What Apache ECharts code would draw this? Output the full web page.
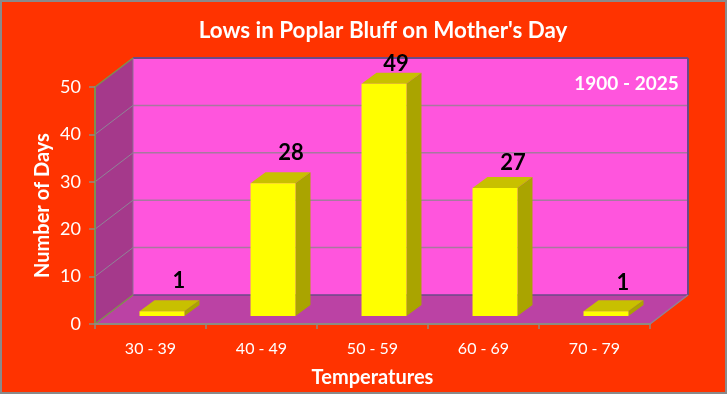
<!DOCTYPE html>
<html><head><meta charset="utf-8">
<style>html,body{margin:0;padding:0;background:#ff3300}#c{width:727px;height:394px;box-sizing:border-box}</style>
<script src="https://cdn.jsdelivr.net/npm/echarts@6/dist/echarts.min.js"></script>
</head><body><div id="c"></div>
<script>
const categories = ['30 - 39','40 - 49','50 - 59','60 - 69','70 - 79'];
const days = [1,28,49,27,1];
const yTicks = [0,10,20,30,40,50];
const titleText = "Lows in Poplar Bluff on Mother's Day";
const periodText = '1900 - 2025';

const FONT = 'Lato, "Open Sans", sans-serif';
const WALL = {dx:38, dy:-29};
const BAR = {gap:11.5, gapY:-8, dx:15, dy:-11};
const LABEL_NUDGE = [[0,0],[1,0],[-5,10],[1,5],[0,2]];

const chart = echarts.init(document.getElementById('c'));

function renderWalls(params, api){
  const cs = params.coordSys;
  const L=cs.x, R=cs.x+cs.width, T=cs.y, B=cs.y+cs.height, dx=WALL.dx, dy=WALL.dy;
  const children = [
    {type:'polygon',shape:{points:[[L+dx,T+dy],[R+dx,T+dy],[R+dx,B+dy],[L+dx,B+dy]]},style:{fill:'#ff55dd'}},
    {type:'polygon',shape:{points:[[L,T],[L+dx,T+dy],[L+dx,B+dy],[L,B]]},style:{fill:'#a5398b'}},
    {type:'polygon',shape:{points:[[L,B],[L+dx,B+dy],[R+dx,B+dy],[R,B]]},style:{fill:'#bb42a4'}}
  ];
  const grey='#8f8496';
  yTicks.forEach(v=>{
    const y=api.coord([0,v])[1];
    if(v>0&&v<50) children.push(
      {type:'line',shape:{x1:L,y1:y,x2:L+dx,y2:y+dy},style:{stroke:grey,lineWidth:1}},
      {type:'line',shape:{x1:L+dx,y1:y+dy,x2:R+dx,y2:y+dy},style:{stroke:'#a8789f',lineWidth:1.5}});
  });
  const dark='#6b4a88';
  children.push(
    {type:'line',shape:{x1:L+dx,y1:T+dy,x2:R+dx,y2:T+dy},style:{stroke:dark,lineWidth:2}},
    {type:'line',shape:{x1:R+dx,y1:T+dy,x2:R+dx,y2:B+dy},style:{stroke:dark,lineWidth:2}},
    {type:'line',shape:{x1:L+dx,y1:B+dy,x2:R+dx,y2:B+dy},style:{stroke:dark,lineWidth:1.5}},
    {type:'line',shape:{x1:L+dx,y1:T+dy,x2:L+dx,y2:B+dy},style:{stroke:'#8f6f96',lineWidth:1}},
    {type:'line',shape:{x1:L,y1:T,x2:L+dx,y2:T+dy},style:{stroke:'#7f8f4f',lineWidth:1.5}},
    {type:'line',shape:{x1:L,y1:B,x2:L+dx,y2:B+dy},style:{stroke:'#7f8f4f',lineWidth:1.5}},
    {type:'line',shape:{x1:R,y1:B,x2:R+dx,y2:B+dy},style:{stroke:grey,lineWidth:1.5}}
  );
  return {type:'group',children};
}

function renderBar(params, api){
  const i=api.value(0), v=api.value(1);
  const base=api.coord([i,0]), top=api.coord([i,v]);
  const w=api.size([1,0])[0]*0.405;
  const x0=base[0]-w/2+BAR.gap, x1=x0+w;
  const yb=base[1]+BAR.gapY, yt=top[1]+BAR.gapY;
  const d=BAR.dx, e=BAR.dy, n=LABEL_NUDGE[i];
  return {type:'group',children:[
    {type:'polygon',shape:{points:[[x0,yt],[x1,yt],[x1+d,yt+e],[x0+d,yt+e]]},style:{fill:'#c8c000'}},
    {type:'polygon',shape:{points:[[x1,yt],[x1+d,yt+e],[x1+d,yb+e],[x1,yb]]},style:{fill:'#aaa400'}},
    {type:'rect',shape:{x:x0,y:yt,width:w,height:yb-yt},style:{fill:'#ffff00'}},
    {type:'text',style:{text:String(v),x:x0+w/2+17+n[0],y:yt-30+n[1],align:'center',verticalAlign:'middle',
      fill:'#000',font:'bold 22px '+FONT}}
  ]};
}

chart.setOption({
  animation:false,
  backgroundColor:'#ff3300',
  title:[
    {text:titleText,left:378,top:15,textAlign:'center',textStyle:{color:'#fff',fontFamily:FONT,fontWeight:'bold',fontSize:22.4}},
    {text:periodText,left:621.5,top:69,textAlign:'center',textStyle:{color:'#fff',fontFamily:FONT,fontWeight:'bold',fontSize:19}}
  ],
  grid:{left:95,right:77,top:87,bottom:70,containLabel:false},
  xAxis:{type:'category',data:categories,z:5,
    name:'Temperatures',nameLocation:'middle',nameGap:44,
    nameTextStyle:{color:'#fff',fontFamily:FONT,fontWeight:'bold',fontSize:20},
    axisLine:{lineStyle:{color:'#8f8a80',width:2}},
    axisTick:{show:true,alignWithLabel:false,length:5,lineStyle:{color:'#8f8a80',width:1.5}},
    axisLabel:{color:'#fff',fontFamily:FONT,fontSize:16,margin:17},
    splitLine:{show:false}},
  yAxis:{type:'value',min:0,max:50,interval:10,z:5,
    name:'Number of Days',nameLocation:'middle',nameGap:42,nameRotate:90,nameMoveOverlap:false,
    nameTextStyle:{color:'#fff',fontFamily:FONT,fontWeight:'bold',fontSize:20},
    axisLine:{show:true,lineStyle:{color:'#7f8f4f',width:2}},
    axisTick:{show:true,length:6,lineStyle:{color:'#8f8a80',width:1.5}},
    axisLabel:{color:'#fff',fontFamily:FONT,fontSize:18,margin:14},
    splitLine:{show:false}},
  series:[
    {type:'custom',name:'walls',silent:true,z:1,coordinateSystem:'cartesian2d',clip:false,
      renderItem:renderWalls,data:[[0,0]],encode:{x:0,y:1}},
    {type:'custom',name:'Number of Days',z:2,coordinateSystem:'cartesian2d',clip:false,
      renderItem:renderBar,data:days.map((v,i)=>[i,v]),encode:{x:0,y:1}}
  ],
  graphic:[{type:'rect',z:100,silent:true,shape:{x:1,y:1,width:725,height:392},style:{fill:'none',stroke:'#8a8a8a',lineWidth:2}}]
});
</script></body></html>
